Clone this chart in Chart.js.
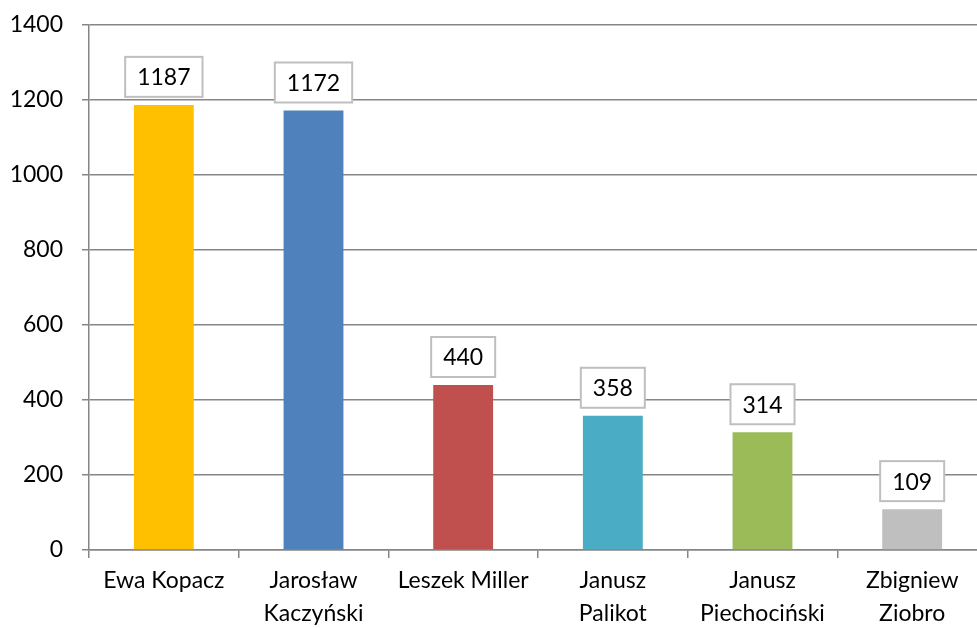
<!DOCTYPE html>
<html>
<head>
<meta charset="utf-8">
<script src="https://cdn.jsdelivr.net/npm/chart.js@4"></script>
<style>
  html, body { margin: 0; padding: 0; background: #ffffff; overflow: hidden; }
  #clip { width: 977px; height: 628px; overflow: hidden; }
  #wrap { width: 987px; height: 628px; position: relative; }
</style>
</head>
<body>
<div id="clip"><div id="wrap"><canvas id="chart"></canvas></div></div>
<script>
// Data
const names = [
  "Ewa Kopacz",
  ["Jarosław", "Kaczyński"],
  "Leszek Miller",
  ["Janusz", "Palikot"],
  ["Janusz", "Piechociński"],
  ["Zbigniew", "Ziobro"],
];
const counts = [1187, 1172, 440, 358, 314, 109];
const barColors = ["#FFC000", "#4F81BD", "#C0504D", "#4BACC6", "#9BBB59", "#BFBFBF"];
const yTicks = [0, 200, 400, 600, 800, 1000, 1200, 1400];

const font = "Lato, 'Open Sans', sans-serif";
const fontSize = 23;
const gridColor = "#868686";

// Boxed value labels above each bar
const valueBoxes = {
  id: "valueBoxes",
  afterDatasetsDraw(chart) {
    const { ctx } = chart;
    const meta = chart.getDatasetMeta(0);
    ctx.save();
    ctx.font = `${fontSize}px ${font}`;
    ctx.textAlign = "center";
    ctx.textBaseline = "middle";
    meta.data.forEach((bar, i) => {
      const text = String(counts[i]);
      const w = ctx.measureText(text).width + 24;
      const h = 40;
      const x = bar.x - w / 2;
      const y = bar.y - 8 - h;
      ctx.fillStyle = "#ffffff";
      ctx.fillRect(x, y, w, h);
      ctx.strokeStyle = "#bfbfbf";
      ctx.lineWidth = 2;
      ctx.strokeRect(x, y, w, h);
      ctx.fillStyle = "#000000";
      ctx.fillText(text, bar.x, y + h / 2 + 1);
    });
    ctx.restore();
  },
};

new Chart(document.getElementById("chart"), {
  type: "bar",
  data: {
    labels: names,
    datasets: [{
      data: counts,
      backgroundColor: barColors,
      categoryPercentage: 1,
      barPercentage: 0.4,
    }],
  },
  options: {
    responsive: true,
    maintainAspectRatio: false,
    animation: false,
    layout: { padding: { top: 25, right: 0, left: 0, bottom: 0 } },
    plugins: {
      legend: { display: false },
      tooltip: { enabled: false },
    },
    scales: {
      x: {
        offset: true,
        grid: {
          offset: true,
          drawOnChartArea: false,
          color: gridColor,
          tickLength: 8,
          lineWidth: 1.5,
        },
        border: { color: gridColor, width: 1.5 },
        ticks: {
          color: "#000000",
          font: { family: font, size: fontSize, lineHeight: 1.43 },
          maxRotation: 0,
          autoSkip: false,
          padding: 6,
        },
        afterFit(scale) {
          scale.height = 78;
          scale.paddingLeft = 0;
          scale.paddingRight = 0;
        },
      },
      y: {
        min: 0,
        max: 1400,
        afterBuildTicks(scale) { scale.ticks = yTicks.map((v) => ({ value: v })); },
        grid: { color: gridColor, tickLength: 7, lineWidth: 1.5 },
        border: { color: gridColor, width: 1.5 },
        ticks: {
          color: "#000000",
          font: { family: font, size: fontSize },
          padding: 19,
          callback: (v) => String(v),
        },
        afterFit(scale) {
          scale.width = 89;
          scale.paddingTop = 0;
          scale.paddingBottom = 0;
        },
      },
    },
  },
  plugins: [valueBoxes],
});
</script>
</body>
</html>
